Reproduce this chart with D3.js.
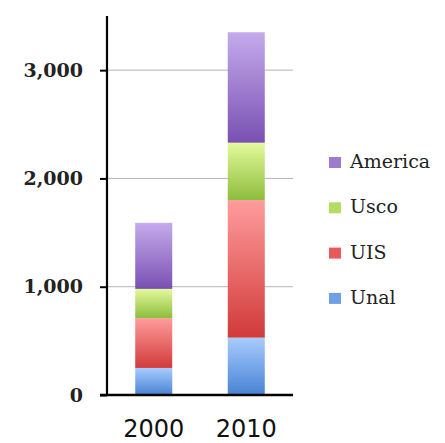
<!DOCTYPE html>
<html>
<head>
<meta charset="utf-8">
<script src="https://cdn.jsdelivr.net/npm/d3@7"></script>
<style>
  html, body { margin: 0; padding: 0; background: #fff; }
  svg { display: block; }
</style>
</head>
<body>
<svg id="chart" width="445" height="443"></svg>
<script>
const categories = ["2000", "2010"];
const seriesNames = ["Unal", "UIS", "Usco", "America"];
const unal = [250, 530];
const uis = [460, 1270];
const usco = [270, 530];
const america = [610, 1020];
const tickValues = [0, 1000, 2000, 3000];

const seriesValues = { Unal: unal, UIS: uis, Usco: usco, America: america };
const colorsTop = { Unal: "#a8ccff", UIS: "#ff9c9c", Usco: "#e4fa9c", America: "#c4abec" };
const colorsBottom = { Unal: "#4883d4", UIS: "#d23a3a", Usco: "#8cbd3c", America: "#7a50b2" };
const legendColors = { Unal: "#6f9fe6", UIS: "#e8595b", Usco: "#b2dc64", America: "#9d7ccd" };

const rows = categories.map((c, i) => {
  const r = { category: c };
  seriesNames.forEach(s => r[s] = seriesValues[s][i]);
  return r;
});
const stacked = d3.stack().keys(seriesNames)(rows);

const svg = d3.select("#chart");
const x = d3.scaleBand().domain(categories).range([107, 293]).paddingInner(0.6).paddingOuter(0.305);
const y = d3.scaleLinear().domain([0, 3500]).range([395, 16]);

const defs = svg.append("defs");
seriesNames.forEach(s => {
  const g = defs.append("linearGradient").attr("id", "grad-" + s)
    .attr("x1", 0).attr("y1", 0).attr("x2", 0).attr("y2", 1);
  g.append("stop").attr("offset", "0%").attr("stop-color", colorsTop[s]);
  g.append("stop").attr("offset", "100%").attr("stop-color", colorsBottom[s]);
});

// gridlines
svg.append("g").selectAll("line").data(tickValues.filter(t => t > 0)).join("line")
  .attr("x1", 107).attr("x2", 293)
  .attr("y1", d => y(d)).attr("y2", d => y(d))
  .attr("stroke", "#b4b4b4").attr("stroke-width", 1);

// bars
svg.append("g").selectAll("g").data(stacked).join("g")
  .attr("fill", d => "url(#grad-" + d.key + ")")
  .selectAll("rect").data(d => d).join("rect")
  .attr("x", d => x(d.data.category))
  .attr("width", x.bandwidth())
  .attr("y", d => y(d[1]))
  .attr("height", d => y(d[0]) - y(d[1]));

// y axis
const yAxis = d3.axisLeft(y).tickValues(tickValues).tickFormat(d3.format(",")).tickSize(7).tickPadding(17);
const yg = svg.append("g").attr("transform", "translate(107,0)").call(yAxis);
yg.select(".domain").attr("stroke", "#000").attr("stroke-width", 2.2).attr("d", "M0,16V395");
yg.selectAll(".tick line").attr("stroke", "#000").attr("stroke-width", 2);
yg.selectAll(".tick text")
  .attr("font-family", "'DejaVu Serif', serif")
  .attr("font-weight", "bold")
  .attr("font-size", 19)
  .attr("fill", "#222");

// x axis
const xAxis = d3.axisBottom(x).tickSize(0).tickPadding(25);
const xg = svg.append("g").attr("transform", "translate(0,395)").call(xAxis);
xg.select(".domain").attr("stroke", "#000").attr("stroke-width", 2.5).attr("d", "M100,0H293");
xg.selectAll(".tick text")
  .attr("font-family", "'DejaVu Sans', sans-serif")
  .attr("font-size", 24)
  .attr("fill", "#111");

// legend
const legendOrder = ["America", "Usco", "UIS", "Unal"];
const lg = svg.append("g").selectAll("g").data(legendOrder).join("g")
  .attr("transform", (d, i) => `translate(329,${157 + i * 45.3})`);
lg.append("rect").attr("width", 12).attr("height", 11).attr("fill", d => legendColors[d]);
lg.append("text").attr("x", 21).attr("y", 11)
  .attr("font-family", "'DejaVu Serif', serif")
  .attr("font-size", 19)
  .attr("fill", "#222")
  .text(d => d);
</script>
</body>
</html>
